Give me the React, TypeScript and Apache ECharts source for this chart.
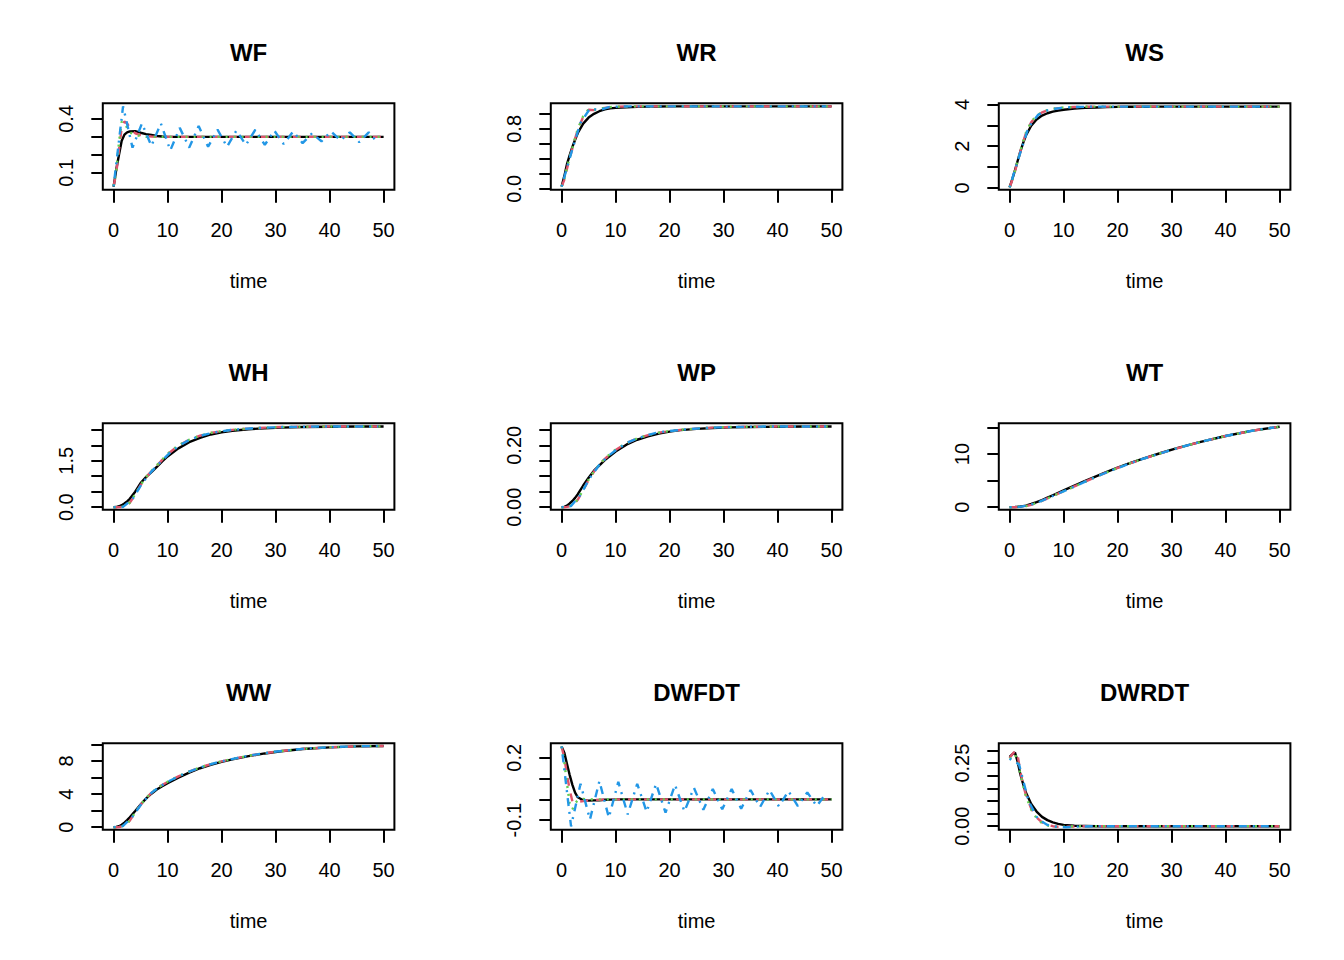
import React, { useEffect, useRef } from "react";
import * as echarts from "echarts";

// ---------- data ----------
const PANELS = ["WF", "WR", "WS", "WH", "WP", "WT", "WW", "DWFDT", "DWRDT"];

// time grid shared by the black, red and green runs
const T = [0, 0.5, 1, 1.5, 2, 2.5, 3, 4, 5, 6, 7, 8, 9, 10, 12, 14, 16, 18, 20, 22, 25, 28, 31, 35, 40, 45, 50];
// time grid of the blue run
const BT = [0, 1.75, 3.5, 5.25, 7, 8.75, 10.5, 12.25, 14, 15.75, 17.5, 19.25, 21, 22.75, 24.5, 26.25, 28, 29.75, 31.5, 33.25, 35, 36.75, 38.5, 40.25, 42, 43.75, 45.5, 47.25, 49];

const X_TICKS = [0, 10, 20, 30, 40, 50];

const WF_BLACK = [0.022, 0.12, 0.2, 0.278, 0.312, 0.325, 0.33, 0.332, 0.323, 0.315, 0.31, 0.305, 0.302, 0.3, 0.3, 0.3, 0.3, 0.3, 0.3, 0.3, 0.3, 0.3, 0.3, 0.3, 0.3, 0.3, 0.3];
const WF_RED = [0.025, 0.1, 0.23, 0.35, 0.385, 0.375, 0.35, 0.32, 0.31, 0.305, 0.302, 0.3, 0.299, 0.3, 0.3, 0.3, 0.3, 0.3, 0.3, 0.3, 0.3, 0.3, 0.3, 0.3, 0.3, 0.3, 0.3];
const WF_GREEN = [0.025, 0.11, 0.27, 0.385, 0.38, 0.35, 0.325, 0.31, 0.305, 0.3, 0.3, 0.3, 0.3, 0.3, 0.3, 0.3, 0.3, 0.3, 0.3, 0.3, 0.3, 0.3, 0.3, 0.3, 0.3, 0.3, 0.3];
const WF_BLUE = [0.025, 0.47, 0.24, 0.375, 0.25, 0.375, 0.225, 0.35, 0.24, 0.36, 0.245, 0.34, 0.245, 0.335, 0.255, 0.34, 0.255, 0.335, 0.26, 0.33, 0.265, 0.32, 0.275, 0.33, 0.28, 0.325, 0.27, 0.325, 0.265];

const WR_BLACK = [0.03, 0.17, 0.33, 0.45, 0.56, 0.655, 0.745, 0.87, 0.95, 1.0, 1.035, 1.06, 1.073, 1.08, 1.088, 1.093, 1.096, 1.098, 1.099, 1.1, 1.1, 1.1, 1.1, 1.1, 1.1, 1.1, 1.1];
const WR_RED = [0.03, 0.12, 0.27, 0.41, 0.54, 0.67, 0.79, 0.96, 1.055, 1.05, 1.06, 1.08, 1.09, 1.095, 1.098, 1.1, 1.1, 1.1, 1.1, 1.1, 1.1, 1.1, 1.1, 1.1, 1.1, 1.1, 1.1];
const WR_GREEN = [0.03, 0.13, 0.28, 0.42, 0.55, 0.68, 0.8, 0.97, 1.06, 1.055, 1.065, 1.082, 1.09, 1.095, 1.098, 1.1, 1.1, 1.1, 1.1, 1.1, 1.1, 1.1, 1.1, 1.1, 1.1, 1.1, 1.1];
const WR_BLUE = [0.03, 0.47, 0.88, 1.07, 1.05, 1.09, 1.097, 1.1, 1.1, 1.1, 1.1, 1.1, 1.1, 1.1, 1.1, 1.1, 1.1, 1.1, 1.1, 1.1, 1.1, 1.1, 1.1, 1.1, 1.1, 1.1, 1.1, 1.1, 1.1];

const WS_BLACK = [0.02, 0.42, 0.85, 1.3, 1.75, 2.15, 2.5, 2.98, 3.28, 3.47, 3.58, 3.66, 3.71, 3.75, 3.8, 3.84, 3.86, 3.875, 3.885, 3.89, 3.895, 3.9, 3.9, 3.9, 3.9, 3.9, 3.9];
const WS_RED = [0.02, 0.38, 0.8, 1.27, 1.75, 2.2, 2.6, 3.15, 3.45, 3.62, 3.72, 3.78, 3.82, 3.85, 3.88, 3.89, 3.9, 3.9, 3.9, 3.9, 3.9, 3.9, 3.9, 3.9, 3.9, 3.9, 3.9];
const WS_GREEN = [0.02, 0.4, 0.82, 1.3, 1.78, 2.23, 2.63, 3.17, 3.47, 3.63, 3.73, 3.79, 3.83, 3.86, 3.88, 3.89, 3.9, 3.9, 3.9, 3.9, 3.9, 3.9, 3.9, 3.9, 3.9, 3.9, 3.9];
const WS_BLUE = [0.02, 1.5, 2.9, 3.5, 3.72, 3.81, 3.86, 3.88, 3.89, 3.9, 3.9, 3.9, 3.9, 3.9, 3.9, 3.9, 3.9, 3.9, 3.9, 3.9, 3.9, 3.9, 3.9, 3.9, 3.9, 3.9, 3.9, 3.9, 3.9];

const WH_BLACK = [0, 0.005, 0.03, 0.065, 0.12, 0.19, 0.27, 0.5, 0.78, 0.97, 1.13, 1.3, 1.48, 1.64, 1.9, 2.1, 2.24, 2.35, 2.42, 2.47, 2.52, 2.55, 2.57, 2.59, 2.6, 2.61, 2.61];
const WH_RED = [0, 0, 0.002, 0.008, 0.025, 0.065, 0.14, 0.41, 0.71, 0.96, 1.16, 1.34, 1.53, 1.71, 1.99, 2.18, 2.31, 2.4, 2.46, 2.5, 2.54, 2.57, 2.59, 2.6, 2.61, 2.61, 2.61];
const WH_GREEN = [0, 0, 0.003, 0.01, 0.03, 0.07, 0.15, 0.42, 0.72, 0.97, 1.17, 1.35, 1.54, 1.72, 2.0, 2.18, 2.31, 2.4, 2.46, 2.5, 2.54, 2.57, 2.59, 2.6, 2.61, 2.61, 2.61];
const WH_BLUE = [0, 0.01, 0.26, 0.76, 1.15, 1.47, 1.77, 2.0, 2.17, 2.29, 2.37, 2.43, 2.48, 2.51, 2.535, 2.555, 2.57, 2.58, 2.59, 2.595, 2.6, 2.605, 2.608, 2.61, 2.61, 2.61, 2.61, 2.61, 2.61];

const WP_BLACK = [0, 0.001, 0.005, 0.012, 0.02, 0.03, 0.042, 0.07, 0.095, 0.118, 0.135, 0.152, 0.166, 0.18, 0.202, 0.218, 0.229, 0.238, 0.244, 0.249, 0.253, 0.256, 0.258, 0.259, 0.26, 0.261, 0.261];
const WP_RED = [0, 0, 0.001, 0.003, 0.007, 0.014, 0.024, 0.055, 0.088, 0.115, 0.137, 0.156, 0.171, 0.185, 0.207, 0.222, 0.233, 0.241, 0.246, 0.25, 0.254, 0.257, 0.259, 0.26, 0.261, 0.261, 0.261];
const WP_GREEN = [0, 0, 0.0012, 0.0035, 0.008, 0.015, 0.025, 0.056, 0.089, 0.116, 0.138, 0.157, 0.172, 0.186, 0.207, 0.222, 0.233, 0.241, 0.246, 0.25, 0.254, 0.257, 0.259, 0.26, 0.261, 0.261, 0.261];
const WP_BLUE = [0, 0.004, 0.04, 0.095, 0.137, 0.167, 0.19, 0.209, 0.222, 0.232, 0.24, 0.245, 0.248, 0.251, 0.2535, 0.2555, 0.257, 0.258, 0.259, 0.2595, 0.26, 0.2605, 0.2608, 0.261, 0.261, 0.261, 0.261, 0.261, 0.261];

const WT_BLACK = [0, 0.008, 0.03, 0.07, 0.12, 0.2, 0.3, 0.6, 0.95, 1.35, 1.8, 2.25, 2.7, 3.15, 4.05, 4.95, 5.8, 6.65, 7.45, 8.2, 9.25, 10.2, 11.1, 12.2, 13.4, 14.4, 15.15];
const WT_RED = [0, 0.003, 0.015, 0.04, 0.08, 0.13, 0.2, 0.45, 0.8, 1.2, 1.65, 2.1, 2.55, 3.0, 3.9, 4.8, 5.7, 6.55, 7.38, 8.15, 9.2, 10.17, 11.08, 12.2, 13.4, 14.4, 15.15];
const WT_GREEN = [0, 0.004, 0.017, 0.045, 0.085, 0.14, 0.21, 0.46, 0.81, 1.21, 1.66, 2.11, 2.56, 3.01, 3.91, 4.81, 5.71, 6.56, 7.39, 8.16, 9.21, 10.18, 11.09, 12.2, 13.4, 14.4, 15.15];
const WT_BLUE = [0, 0.06, 0.32, 0.9, 1.65, 2.44, 3.22, 4.0, 4.8, 5.6, 6.34, 7.05, 7.75, 8.42, 9.03, 9.6, 10.15, 10.7, 11.24, 11.72, 12.2, 12.63, 13.05, 13.45, 13.81, 14.16, 14.49, 14.78, 15.0];

const WW_BLACK = [0, 0.03, 0.12, 0.3, 0.55, 0.85, 1.2, 1.95, 2.75, 3.45, 4.05, 4.55, 4.95, 5.33, 6.0, 6.6, 7.13, 7.55, 7.9, 8.2, 8.6, 8.92, 9.18, 9.45, 9.65, 9.77, 9.82];
const WW_RED = [0, 0, 0.02, 0.08, 0.22, 0.45, 0.8, 1.75, 2.7, 3.5, 4.15, 4.68, 5.1, 5.48, 6.15, 6.72, 7.22, 7.62, 7.96, 8.25, 8.64, 8.95, 9.2, 9.47, 9.67, 9.78, 9.82];
const WW_GREEN = [0, 0, 0.025, 0.09, 0.24, 0.47, 0.82, 1.77, 2.72, 3.51, 4.16, 4.69, 5.11, 5.49, 6.16, 6.73, 7.22, 7.62, 7.96, 8.25, 8.64, 8.95, 9.2, 9.47, 9.67, 9.78, 9.82];
const WW_BLUE = [0, 0.15, 1.28, 2.9, 4.15, 5.0, 5.65, 6.22, 6.72, 7.16, 7.52, 7.84, 8.11, 8.35, 8.58, 8.78, 8.95, 9.12, 9.24, 9.36, 9.47, 9.56, 9.62, 9.67, 9.72, 9.755, 9.785, 9.8, 9.815];

const DWFDT_BLACK = [0.255, 0.225, 0.17, 0.117, 0.07, 0.032, 0.01, -0.004, -0.006, -0.005, -0.004, -0.002, -0.001, 0, 0, 0, 0, 0, 0, 0, 0, 0, 0, 0, 0, 0, 0];
const DWFDT_RED = [0.255, 0.2, 0.12, 0.045, -0.01, -0.013, -0.012, -0.008, -0.005, -0.003, -0.002, -0.001, 0, 0, 0, 0, 0, 0, 0, 0, 0, 0, 0, 0, 0, 0, 0];
const DWFDT_GREEN = [0.255, 0.18, 0.075, -0.02, -0.048, -0.018, -0.005, 0.002, -0.002, 0.001, 0, 0, 0, 0, 0, 0, 0, 0, 0, 0, 0, 0, 0, 0, 0, 0, 0];
const DWFDT_BLUE = [0.255, -0.13, 0.075, -0.097, 0.088, -0.088, 0.084, -0.072, 0.075, -0.06, 0.075, -0.064, 0.07, -0.058, 0.056, -0.05, 0.05, -0.048, 0.05, -0.045, 0.045, -0.037, 0.045, -0.034, 0.04, -0.032, 0.034, -0.032, 0.03];

const DWRDT_BLACK = [0.275, 0.285, 0.292, 0.255, 0.205, 0.168, 0.135, 0.088, 0.058, 0.037, 0.024, 0.015, 0.009, 0.005, 0.002, 0.001, 0, 0, 0, 0, 0, 0, 0, 0, 0, 0, 0];
const DWRDT_RED = [0.27, 0.285, 0.298, 0.28, 0.215, 0.165, 0.125, 0.07, 0.035, 0.015, 0.005, 0, -0.002, -0.002, -0.001, 0, 0, 0, 0, 0, 0, 0, 0, 0, 0, 0, 0];
const DWRDT_GREEN = [0.268, 0.272, 0.285, 0.26, 0.205, 0.16, 0.12, 0.066, 0.032, 0.012, 0.003, -0.002, -0.003, -0.002, 0, 0, 0, 0, 0, 0, 0, 0, 0, 0, 0, 0, 0];
const DWRDT_BLUE = [0.268, 0.245, 0.1, 0.028, 0.005, -0.003, -0.004, -0.002, -0.001, 0, 0, 0, 0, 0, 0, 0, 0, 0, 0, 0, 0, 0, 0, 0, 0, 0, 0, 0, 0];

const BLACK_RUNS = [WF_BLACK, WR_BLACK, WS_BLACK, WH_BLACK, WP_BLACK, WT_BLACK, WW_BLACK, DWFDT_BLACK, DWRDT_BLACK];
const RED_RUNS = [WF_RED, WR_RED, WS_RED, WH_RED, WP_RED, WT_RED, WW_RED, DWFDT_RED, DWRDT_RED];
const GREEN_RUNS = [WF_GREEN, WR_GREEN, WS_GREEN, WH_GREEN, WP_GREEN, WT_GREEN, WW_GREEN, DWFDT_GREEN, DWRDT_GREEN];
const BLUE_RUNS = [WF_BLUE, WR_BLUE, WS_BLUE, WH_BLUE, WP_BLUE, WT_BLUE, WW_BLUE, DWFDT_BLUE, DWRDT_BLUE];

// y axes: range, tick values, labelled tick values, decimals
const Y_MIN = [0.0061, -0.0107, -0.0867, -0.081, -0.0081, -0.473, -0.304, -0.146, -0.0139];
const Y_MAX = [0.4866, 1.1406, 4.058, 2.711, 0.2711, 15.79, 10.146, 0.27, 0.3287];
const Y_TICKS = [
  [0.1, 0.2, 0.3, 0.4],
  [0, 0.2, 0.4, 0.6, 0.8, 1.0],
  [0, 1, 2, 3, 4],
  [0, 0.5, 1, 1.5, 2, 2.5],
  [0, 0.05, 0.1, 0.15, 0.2, 0.25],
  [0, 5, 10, 15],
  [0, 2, 4, 6, 8, 10],
  [-0.1, 0, 0.1, 0.2],
  [0, 0.05, 0.1, 0.15, 0.2, 0.25, 0.3],
];
const Y_LABELS = [[0.1, 0.4], [0, 0.8], [0, 2, 4], [0, 1.5], [0, 0.2], [0, 10], [0, 4, 8], [-0.1, 0.2], [0, 0.25]];
const Y_DEC = [1, 1, 0, 1, 2, 0, 0, 1, 2];

// ---------- styling ----------
const FONT = "'Liberation Sans', Arial, Helvetica, sans-serif";
const COLORS = ["#000000", "#DF536B", "#61D04F", "#2297E6"];
const DASHES: any[] = ["solid", [8, 8], [2, 6], [2, 6, 8, 6]];
const CELL_W = 448;
const CELL_H = 320;
const GL = 102.8;
const GT = 103.3;
const GW = 291.6;
const GH = 86.4;

function buildOption() {
  const grids: any[] = [];
  const xAxes: any[] = [];
  const yAxes: any[] = [];
  const series: any[] = [];
  const graphics: any[] = [];

  PANELS.forEach((name, i) => {
    const col = i % 3;
    const row = Math.floor(i / 3);
    const left = GL + CELL_W * col;
    const top = GT + CELL_H * row;
    grids.push({
      left,
      top,
      width: GW,
      height: GH,
      show: true,
      borderColor: "#000",
      borderWidth: 2,
      backgroundColor: "transparent",
      containLabel: false,
      outerBoundsMode: "none",
    });
    xAxes.push({
      type: "value",
      gridIndex: i,
      position: "bottom",
      min: -2,
      max: 52,
      axisLine: { show: false, onZero: false },
      splitLine: { show: false },
      axisTick: {
        show: true,
        inside: false,
        length: 13,
        lineStyle: { color: "#000", width: 2 },
        customValues: X_TICKS,
      },
      axisLabel: {
        show: true,
        customValues: X_TICKS,
        fontSize: 20,
        color: "#000",
        fontFamily: FONT,
        margin: 30,
      },
      name: "time",
      nameLocation: "middle",
      nameGap: 81.5,
      nameTextStyle: { fontSize: 20, color: "#000", fontFamily: FONT },
    });
    const dec = Y_DEC[i];
    yAxes.push({
      type: "value",
      gridIndex: i,
      position: "left",
      min: Y_MIN[i],
      max: Y_MAX[i],
      axisLine: { show: false, onZero: false },
      splitLine: { show: false },
      axisTick: {
        show: true,
        inside: false,
        length: 11.5,
        lineStyle: { color: "#000", width: 2 },
        customValues: Y_TICKS[i],
      },
      axisLabel: {
        show: true,
        customValues: Y_LABELS[i],
        rotate: 90,
        fontSize: 20,
        color: "#000",
        fontFamily: FONT,
        margin: 27,
        formatter: (v: number) => Number(v).toFixed(dec),
      },
    });
    const runs = [
      { t: T, v: BLACK_RUNS[i] },
      { t: T, v: RED_RUNS[i] },
      { t: T, v: GREEN_RUNS[i] },
      { t: BT, v: BLUE_RUNS[i] },
    ];
    runs.forEach((r, k) => {
      series.push({
        type: "line",
        name: name + "_" + k,
        xAxisIndex: i,
        yAxisIndex: i,
        data: r.t.map((t, j) => [t, r.v[j]]),
        symbol: "none",
        showSymbol: false,
        smooth: false,
        clip: true,
        lineStyle: { color: COLORS[k], width: 2.4, type: DASHES[k] },
        emphasis: { disabled: true },
      });
    });
    graphics.push({
      type: "text",
      x: left + GW / 2,
      y: 52.5 + CELL_H * row,
      style: {
        text: name,
        font: "bold 24px " + FONT,
        fill: "#000",
        textAlign: "center",
        textVerticalAlign: "middle",
      },
    });
  });

  return {
    animation: false,
    backgroundColor: "#ffffff",
    grid: grids,
    xAxis: xAxes,
    yAxis: yAxes,
    series,
    graphic: graphics,
  };
}

export default function App() {
  const ref = useRef<HTMLDivElement>(null);
  useEffect(() => {
    if (!ref.current) return;
    const chart = echarts.init(ref.current, null, { renderer: "svg" });
    chart.setOption(buildOption() as any);
    return () => {
      chart.dispose();
    };
  }, []);
  return (
    <div
      ref={ref}
      style={{ position: "absolute", left: 0, top: 0, width: 1344, height: 960, background: "#fff" }}
    />
  );
}
